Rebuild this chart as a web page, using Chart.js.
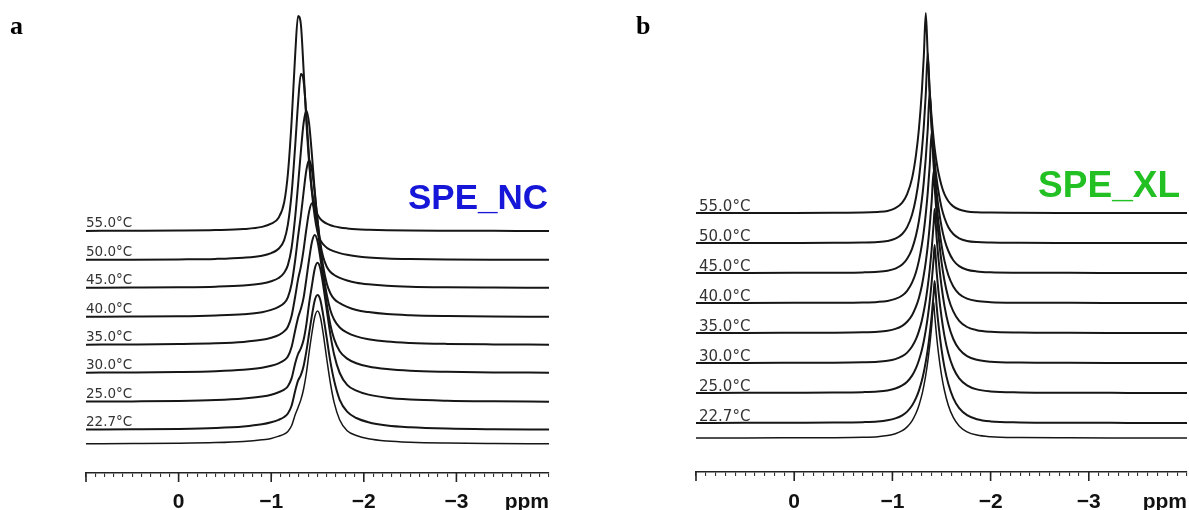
<!DOCTYPE html>
<html><head><meta charset="utf-8">
<script src="https://cdn.jsdelivr.net/npm/chart.js@4.4.1/dist/chart.umd.min.js"></script>
<style>
html,body{margin:0;padding:0;background:#fff;width:1189px;height:510px;overflow:hidden}
#wa{position:absolute;left:0;top:0;width:600px;height:510px}
#wb{position:absolute;left:610px;top:0;width:579px;height:510px}
</style></head><body>
<div id="wa"><canvas id="ca" width="600" height="510"></canvas></div>
<div id="wb"><canvas id="cb" width="579" height="510"></canvas></div>
<script>
// ---------- DATA ----------
const temperatures = ['55.0°C','50.0°C','45.0°C','40.0°C','35.0°C','30.0°C','25.0°C','22.7°C',''];
const tickValues = [0, -1, -2, -3];
const tickLabels = ['0', '\u22121', '\u22122', '\u22123'];
const unitLabel = 'ppm';

// Panel a (SPE_NC): chemical shift grid (ppm) and intensities
const ppmA = [1.0,0.5,0.0,-0.4,-0.7,-0.9,-1.0,-1.08,-1.14,-1.18,-1.22,-1.26,-1.29,-1.32,-1.35,-1.38,-1.41,-1.44,-1.47,-1.5,-1.53,-1.56,-1.6,-1.64,-1.68,-1.74,-1.82,-1.92,-2.05,-2.25,-2.5,-2.9,-3.4,-4.0];
const ncT55 = [0.1,0.2,0.4,0.9,1.9,4.1,7.3,13.3,28.6,57,109,178,215,207,161,109,67.6,40,24.9,16.6,12.2,9.6,7.3,5.7,4.6,3.5,2.6,1.8,1.3,0.8,0.5,0.3,0.15,0.1];
const ncT50 = [0.2,0.3,0.6,1.1,2.3,4.3,6.9,11.2,19.9,35.4,66.1,115.4,156.6,186,179,144.2,101.4,67.6,43.4,28,20,15.8,12.3,10.2,8.6,6.9,5.2,3.8,2.6,1.6,1.0,0.55,0.3,0.2];
const ncT45 = [0.2,0.4,0.7,1.3,2.5,4.5,6.7,10,15.3,22.9,40,72,103,136,165,177.6,164,133,97.5,68.5,45,31.4,21.2,16,13,10.1,7.5,5.3,3.7,2.2,1.3,0.7,0.4,0.2];
const ncT40 = [0.3,0.45,0.8,1.6,2.8,4.8,7.1,10.1,14,19.7,33,57.5,80.4,101,125,147,157,147,124,96.5,72,51.5,33.5,23.5,18,13.8,10.2,7.0,4.9,2.9,1.8,1.0,0.5,0.3];
const ncT35 = [0.35,0.55,0.95,1.7,3.1,5.2,7.3,9.9,13.6,18.2,29,49,65.6,78.1,95.4,116,133.6,141.7,134.3,117,95,73.4,50.4,34.5,25.3,17.5,12.4,8.6,5.8,3.4,2.05,1.1,0.6,0.3];
const ncT30 = [0.35,0.55,1.0,1.8,3.2,5.2,7.2,9.7,12.7,16.4,26,43,55.3,63.9,75.4,94.2,114,131,137.9,131.8,115.4,95.5,69,47.9,33.9,21.8,14.4,9.8,6.5,3.9,2.2,1.2,0.6,0.35];
const ncT25 = [0.4,0.6,1.0,1.9,3.4,5.4,7.2,9.8,12.4,15.8,23.6,39,48,53.6,62.3,77.7,98.8,116.6,133,139.2,133.5,117.6,91.9,66.9,47.2,29,17.2,11.4,7.4,4.3,2.5,1.3,0.7,0.35];
const ncT22 = [0.4,0.65,1.1,2.0,3.5,5.65,7.7,10.2,13,16.5,24.3,39.5,49.3,54.8,64,78.8,97,114.6,129.6,134.9,130.2,115.7,91.8,67.8,49.2,30.2,18.3,12,7.8,4.5,2.7,1.4,0.75,0.4];
const ncBase = [0.3,0.45,0.75,1.4,2.55,4.2,5.6,7.8,9.8,12.6,18.2,29.4,36.6,44.1,55,71,92,111,127,133,127.3,111.4,85,60.5,41.4,24,13.2,8.5,5.3,3.05,1.8,0.95,0.5,0.25];

// Panel b (SPE_XL)
const ppmB = [1.0,0.5,0.0,-0.4,-0.7,-0.85,-0.95,-1.03,-1.1,-1.15,-1.2,-1.24,-1.27,-1.3,-1.32,-1.34,-1.36,-1.38,-1.4,-1.42,-1.43,-1.45,-1.47,-1.5,-1.53,-1.57,-1.62,-1.68,-1.76,-1.86,-2.0,-2.3,-2.8,-3.4,-4.0];
const xlT55 = [0,0.05,0.1,0.2,0.4,1.0,2.0,4.8,10.4,18.9,34.6,57.8,84,122,157,200,157,122,95,74,64.8,50.8,39.7,27.6,18.9,11.8,6.6,3.5,1.6,0.75,0.4,0.2,0.1,0.05,0];
const xlT50 = [0,0.05,0.1,0.2,0.4,0.9,2.0,4.3,9.0,15.9,28.3,45.3,64.4,92.5,117,149,190,149,117,92.5,82,64.4,51,35.6,25.2,15.8,9.0,4.7,2.1,0.9,0.45,0.2,0.1,0.05,0];
const xlT45 = [0.05,0.1,0.15,0.3,0.6,1.2,2.3,4.4,8.4,14.2,24.2,37.4,52.2,73.1,91.4,115,144,181,144,115,102.7,82,65,46.6,33.6,22,12.8,6.9,3.3,1.55,0.7,0.3,0.15,0.07,0.04];
const xlT40 = [0.05,0.1,0.15,0.25,0.55,1.1,2.1,4.1,7.5,12.2,20.4,30.8,42.4,58.1,71.8,89.1,110.7,137.4,171,137.4,123.5,99.3,79.9,58.1,42.4,27.7,16.6,9.1,4.4,1.9,0.8,0.3,0.15,0.07,0.04];
const xlT35 = [0.06,0.1,0.2,0.3,0.7,1.3,2.3,4.1,7.2,11.2,17.8,26.3,35.1,47.3,58.3,71.2,87.1,107.2,131.7,162,146.2,118.7,96.9,71.2,52.5,35.1,21.6,12.2,6.0,2.8,1.2,0.45,0.2,0.1,0.05];
const xlT30 = [0.06,0.1,0.2,0.3,0.7,1.2,2.2,3.9,6.8,10.4,16.5,23.9,31.9,42.6,52,62.9,76.8,93.5,114,139.3,154,126,103.4,77,57.1,38.8,24,13.8,6.9,3.2,1.3,0.46,0.2,0.1,0.05];
const xlT25 = [0.1,0.15,0.25,0.4,0.85,1.5,2.6,4.5,7.6,11.3,17.4,24.9,32.8,43.1,52,62.8,75.8,91.7,111,134.4,148,122.1,100.8,76.1,57.1,39.4,25,14.7,7.7,3.6,1.6,0.6,0.25,0.12,0.06];
const xlT22 = [0.1,0.15,0.25,0.4,0.85,1.5,2.7,4.6,7.7,11.4,17.5,24.8,32.4,42.5,51,61.4,73.5,88.9,107,129.2,142,117.6,97.7,73.8,55.9,38.9,24.9,14.8,7.8,3.75,1.6,0.6,0.25,0.12,0.06];
const xlBase = [0.06,0.1,0.2,0.3,0.7,1.3,2.4,4.3,7.3,11.1,17.2,24.7,32.6,43.1,52.2,63,76.3,92.4,112.1,136,123.5,101.8,84.1,63,47.5,32.6,20.6,12.1,6.2,2.9,1.25,0.44,0.2,0.1,0.05];

// ---------- LAYOUT / STYLE ----------
const panelA = {
  id: 'ca', letter: 'a', name: 'SPE_NC', nameColor: '#1616d8',
  ppm: ppmA, series: [ncT55,ncT50,ncT45,ncT40,ncT35,ncT30,ncT25,ncT22,ncBase],
  stack: [213,184,156,127,99,71,42,14,0], ymin: -29, ymax: 444,
  padL: 86, padR: 51, axisH: 37,
  letterX: 10, letterY: 34, nameX: 548, nameY: 209, nameFont: 'bold 35px "Liberation Sans"',
  tickFont: 'bold 21px "Liberation Sans"', labelBase: 508,
  tempFont: '13.5px "DejaVu Sans"', tempDx: 0, tempDy: 4
};
const panelB = {
  id: 'cb', letter: 'b', name: 'SPE_XL', nameColor: '#22c022',
  ppm: ppmB, series: [xlT55,xlT50,xlT45,xlT40,xlT35,xlT30,xlT25,xlT22,xlBase],
  stack: [225,195,165,135,105,75,45,15,0], ymin: -34, ymax: 438,
  padL: 86, padR: 2, axisH: 38,
  letterX: 26, letterY: 34, nameX: 570, nameY: 197, nameFont: 'bold 37px "Liberation Sans"',
  tickFont: 'bold 21px "Liberation Sans"', labelBase: 508,
  tempFont: '15px "DejaVu Sans"', tempDx: 3, tempDy: 2.5
};

function makePanel(cfg) {
  const datasets = cfg.series.map((vals, k) => ({
    label: temperatures[k],
    data: cfg.ppm.map((p, i) => ({ x: p, y: cfg.stack[k] + vals[i] })),
    borderColor: '#161616',
    borderWidth: k === cfg.series.length - 1 ? 1.5 : 2,
    pointRadius: 0,
    fill: false,
    cubicInterpolationMode: 'monotone'
  }));
  const decor = {
    id: 'decor',
    afterDraw(chart) {
      const ctx = chart.ctx, xs = chart.scales.x, ys = chart.scales.y, ca = chart.chartArea;
      ctx.save();
      ctx.strokeStyle = '#222'; ctx.lineWidth = 1.6;
      [1, 0, -1, -2, -3].forEach(v => {
        const px = xs.getPixelForValue(v);
        ctx.beginPath(); ctx.moveTo(px, ca.bottom); ctx.lineTo(px, ca.bottom + 9); ctx.stroke();
      });
      ctx.fillStyle = '#111'; ctx.font = cfg.tickFont; ctx.textBaseline = 'alphabetic'; ctx.textAlign = 'center';
      tickValues.forEach((v, i) => ctx.fillText(tickLabels[i], xs.getPixelForValue(v), cfg.labelBase));
      ctx.textAlign = 'right';
      ctx.fillText(unitLabel, ca.right, cfg.labelBase);
      ctx.font = cfg.tempFont; ctx.fillStyle = '#333'; ctx.textAlign = 'left';
      chart.data.datasets.forEach((d, k) => {
        if (!d.label) return;
        ctx.fillText(d.label, ca.left + cfg.tempDx, ys.getPixelForValue(cfg.stack[k]) - cfg.tempDy);
      });
      ctx.font = 'bold 26px "Liberation Serif"'; ctx.fillStyle = '#000'; ctx.textAlign = 'left';
      ctx.fillText(cfg.letter, cfg.letterX, cfg.letterY);
      ctx.font = cfg.nameFont; ctx.fillStyle = cfg.nameColor; ctx.textAlign = 'right';
      ctx.fillText(cfg.name, cfg.nameX, cfg.nameY);
      ctx.restore();
    }
  };
  return new Chart(document.getElementById(cfg.id), {
    type: 'line',
    data: { datasets },
    options: {
      responsive: false, animation: false, events: [],
      layout: { padding: { left: cfg.padL, right: cfg.padR, top: 0, bottom: 0 } },
      plugins: { legend: { display: false }, tooltip: { enabled: false }, title: { display: false } },
      scales: {
        x: {
          type: 'linear', min: -4, max: 1, reverse: true, position: 'bottom',
          afterFit: s => { s.height = cfg.axisH; },
          border: { display: true, color: '#222', width: 1.6 },
          grid: { display: true, drawOnChartArea: false, drawTicks: true, tickLength: 4, color: '#333', lineWidth: 1.1 },
          ticks: { display: false, stepSize: 0.1, autoSkip: false }
        },
        y: { display: false, min: cfg.ymin, max: cfg.ymax }
      }
    },
    plugins: [decor]
  });
}
makePanel(panelA);
makePanel(panelB);
</script>
</body></html>
